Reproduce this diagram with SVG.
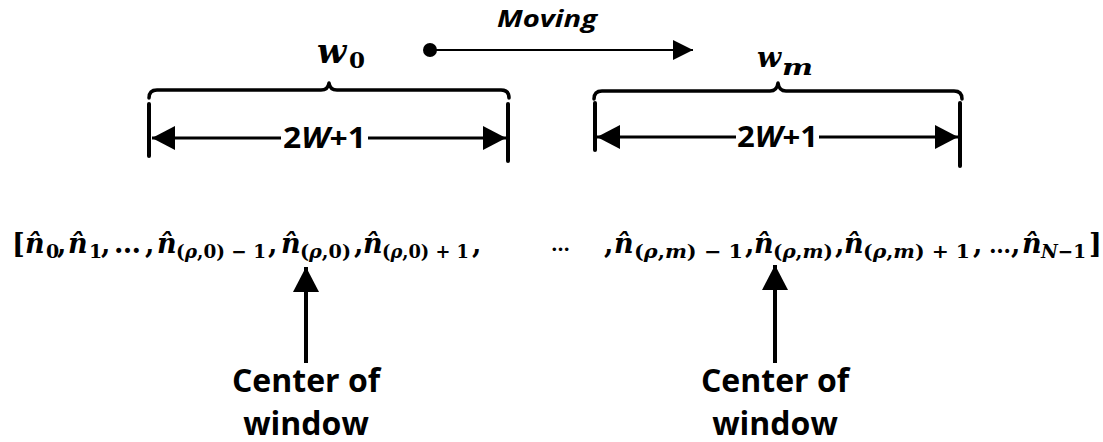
<svg xmlns="http://www.w3.org/2000/svg" width="1103" height="442" viewBox="0 0 1103 442">
<style>
.m{font-family:"DejaVu Serif","Liberation Serif",serif;font-weight:bold;fill:#000}
.i{font-style:italic}
.big{font-size:27px}
.sub{font-size:19px}
.lbl{font-family:"Open Sans","Liberation Sans",sans-serif;font-weight:bold;fill:#000}
.brace{fill:none;stroke:#000;stroke-width:3.5;stroke-linecap:round;stroke-linejoin:round}
.bar{stroke:#000;stroke-width:4;stroke-linecap:round}
.dim{stroke:#000;stroke-width:3;fill:none}
.thin{stroke:#000;stroke-width:2;fill:none}
.up{stroke:#000;stroke-width:4;fill:none}
</style>
<defs>
<marker id="dimHead" markerUnits="userSpaceOnUse" viewBox="0 0 24 24" markerWidth="24" markerHeight="24" refX="23" refY="12" orient="auto">
<path d="M0,0 L23,12 L0,24 z" fill="#000"/>
</marker>
<marker id="thinHead" markerUnits="userSpaceOnUse" viewBox="0 0 20 20" markerWidth="20" markerHeight="20" refX="20" refY="10" orient="auto">
<path d="M0,0 L20,10 L0,20 z" fill="#000"/>
</marker>
<marker id="upHead" markerUnits="userSpaceOnUse" viewBox="0 0 25 26" markerWidth="25" markerHeight="26" refX="25" refY="13" orient="auto">
<path d="M0,0 L25,13 L0,26 z" fill="#000"/>
</marker>
</defs>
<rect width="1103" height="442" fill="#fff"/>

<g id="moving">
<text class="lbl i" x="497" y="27" font-size="23" textLength="100" lengthAdjust="spacingAndGlyphs">Moving</text>
<circle cx="430" cy="50" r="7" fill="#000"/>
</g>

<g id="window0">
<text class="m i" x="317" y="63" font-size="34">w</text>
<text class="m" x="349" y="68" font-size="23">0</text>
<path class="brace" d="M149,98 Q149,90 157,90 L321,90 Q328,90 329,83 Q330,90 337,90 L501,90 Q509,90 509,98"/>
<line class="bar" x1="149" y1="104" x2="149" y2="156"/>
<line class="bar" x1="508" y1="104" x2="508" y2="161"/>
<text class="lbl" x="283" y="148" font-size="28" textLength="83" lengthAdjust="spacingAndGlyphs">2<tspan font-style="italic">W</tspan>+1</text>
</g>

<g id="windowM">
<text class="m i" x="757" y="67" font-size="28">w</text>
<text class="m i" x="782" y="75" font-size="22" textLength="31" lengthAdjust="spacingAndGlyphs">m</text>
<path class="brace" d="M594,99 Q594,91 602,91 L770,91 Q777,91 778,83 Q779,91 786,91 L954,91 Q962,91 962,99"/>
<line class="bar" x1="595" y1="103" x2="595" y2="150"/>
<line class="bar" x1="960" y1="103" x2="960" y2="166"/>
<text class="lbl" x="737" y="147" font-size="28" textLength="81" lengthAdjust="spacingAndGlyphs">2<tspan font-style="italic">W</tspan>+1</text>
</g>

<g id="sequence">
<text class="m big" x="12" y="253">[</text>
<text class="m i big" x="25" y="253">n&#x302;</text>
<text class="m sub" x="46" y="258">0</text>
<text class="m big" x="57" y="253">,</text>
<text class="m i big" x="68" y="253">n&#x302;</text>
<text class="m sub" x="89" y="258">1</text>
<text class="m big" x="101" y="253">,</text>
<text class="m big" x="114" y="253">…</text>
<text class="m big" x="145" y="253">,</text>
<text class="m i big" x="157" y="253">n&#x302;</text>
<text class="m sub" x="176" y="258" textLength="90" lengthAdjust="spacingAndGlyphs">(<tspan font-style="italic">ρ</tspan>,0) − 1</text>
<text class="m big" x="268" y="253">,</text>
<text class="m i big" x="281" y="253">n&#x302;</text>
<text class="m sub" x="300" y="258" textLength="51" lengthAdjust="spacingAndGlyphs">(<tspan font-style="italic">ρ</tspan>,0)</text>
<text class="m big" x="354" y="253">,</text>
<text class="m i big" x="363" y="253">n&#x302;</text>
<text class="m sub" x="382" y="258" textLength="87" lengthAdjust="spacingAndGlyphs">(<tspan font-style="italic">ρ</tspan>,0) + 1</text>
<text class="m big" x="472" y="253">,</text>
<text class="m" x="551" y="251" font-size="19">…</text>
<text class="m big" x="604" y="253">,</text>
<text class="m i big" x="614" y="253">n&#x302;</text>
<text class="m sub" x="634" y="258" textLength="109" lengthAdjust="spacingAndGlyphs">(<tspan font-style="italic">ρ</tspan>,<tspan font-style="italic">m</tspan>) − 1</text>
<text class="m big" x="745" y="253">,</text>
<text class="m i big" x="754" y="253">n&#x302;</text>
<text class="m sub" x="773" y="258" textLength="60" lengthAdjust="spacingAndGlyphs">(<tspan font-style="italic">ρ</tspan>,<tspan font-style="italic">m</tspan>)</text>
<text class="m big" x="835" y="253">,</text>
<text class="m i big" x="844" y="253">n&#x302;</text>
<text class="m sub" x="863" y="258" textLength="107" lengthAdjust="spacingAndGlyphs">(<tspan font-style="italic">ρ</tspan>,<tspan font-style="italic">m</tspan>) + 1</text>
<text class="m big" x="973" y="253">,</text>
<text class="m" x="989" y="253" font-size="22">…</text>
<text class="m big" x="1011" y="253">,</text>
<text class="m i big" x="1022" y="253">n&#x302;</text>
<text class="m sub" x="1041" y="258" textLength="45" lengthAdjust="spacingAndGlyphs"><tspan font-style="italic">N</tspan>−1</text>
<text class="m big" x="1089" y="253">]</text>
</g>

<g id="center0">
<text class="lbl" x="306" y="392" font-size="32" text-anchor="middle">Center of</text>
<text class="lbl" x="306" y="435" font-size="32" text-anchor="middle">window</text>
</g>
<g id="centerM">
<text class="lbl" x="775" y="392" font-size="32" text-anchor="middle">Center of</text>
<text class="lbl" x="775" y="435" font-size="32" text-anchor="middle">window</text>
</g>

<g id="connectors">
<path class="thin" d="M430,50 L693,50" marker-end="url(#thinHead)"/>
<path class="dim" d="M281,138 L152,138" marker-end="url(#dimHead)"/>
<path class="dim" d="M368,138 L506,138" marker-end="url(#dimHead)"/>
<path class="dim" d="M736,137 L597,137" marker-end="url(#dimHead)"/>
<path class="dim" d="M819,137 L958,137" marker-end="url(#dimHead)"/>
<path class="up" d="M306,363 L306,267" marker-end="url(#upHead)"/>
<path class="up" d="M775,363 L775,265" marker-end="url(#upHead)"/>
</g>
</svg>
